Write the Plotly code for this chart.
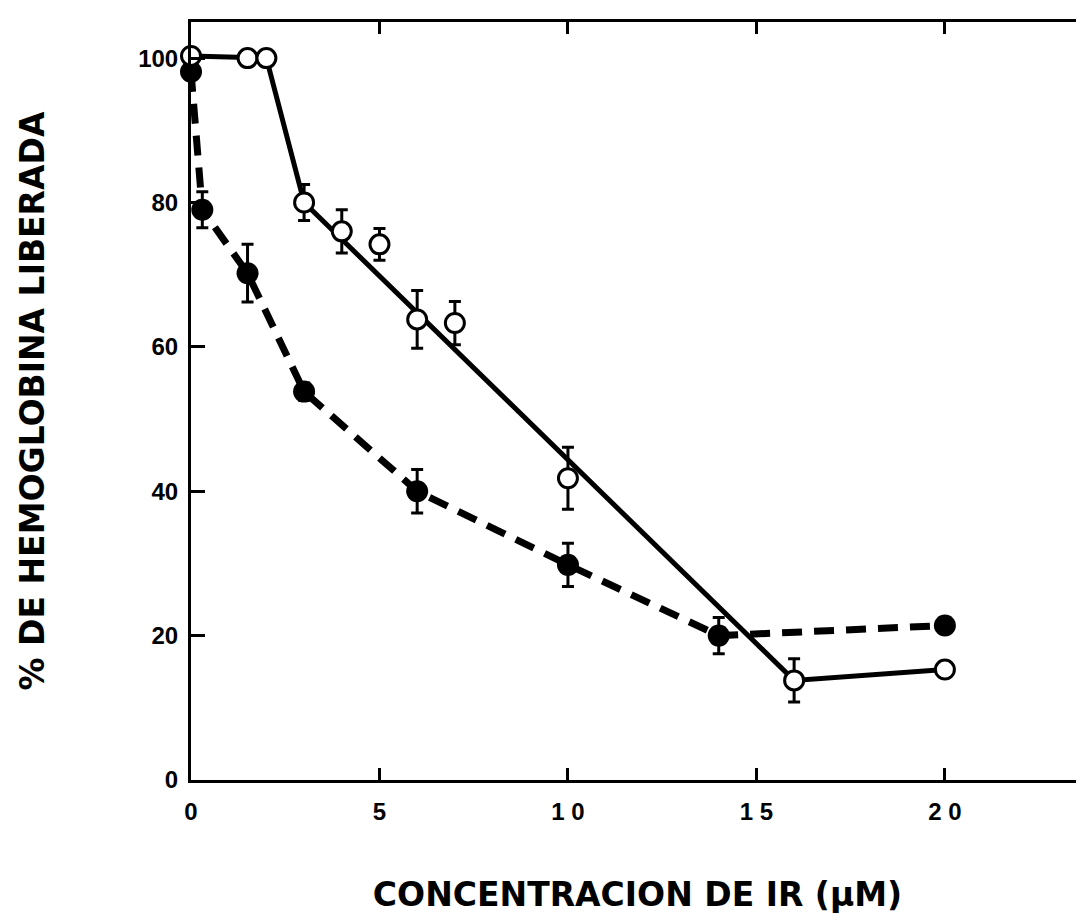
import plotly.graph_objects as go

# Open circles (solid line)
open_x = [0, 1.5, 2.0, 3, 4, 5, 6, 7, 10, 16, 20]
open_y = [100.3, 100, 100, 80, 76, 74.2, 63.8, 63.3, 41.8, 13.8, 15.3]
open_err = [0, 0, 0, 2.5, 3, 2.2, 4, 3, 4.3, 3, 0]

# Fitted solid line vertices
fit_x = [0, 1.5, 2.0, 3, 16, 20]
fit_y = [100.3, 100, 100, 80, 13.8, 15.3]

# Filled circles (dashed line)
filled_x = [0, 0.3, 1.5, 3, 6, 10, 14, 20]
filled_y = [98.1, 79, 70.2, 53.8, 40, 29.8, 20, 21.4]
filled_err = [0, 2.5, 4, 1.2, 3, 3, 2.5, 1]

x_tickvals = [0, 5, 10, 15, 20]
x_ticktext = ["0", "5", "1 0", "1 5", "2 0"]
y_tickvals = [0, 20, 40, 60, 80, 100]
y_ticktext = ["0", "20", "40", "60", "80", "100"]

x_title = "CONCENTRACION DE IR (µM)"
y_title = "% DE HEMOGLOBINA LIBERADA"

fig = go.Figure()

fig.add_trace(go.Scatter(
    x=filled_x, y=filled_y, mode="lines+markers",
    line=dict(color="black", width=7, dash="20px,12px"),
    marker=dict(color="black", size=22, symbol="circle"),
    error_y=dict(type="data", array=filled_err, visible=True,
                 color="black", thickness=3, width=6),
    cliponaxis=False, showlegend=False, hoverinfo="skip",
))

fig.add_trace(go.Scatter(
    x=fit_x, y=fit_y, mode="lines",
    line=dict(color="black", width=5),
    cliponaxis=False, showlegend=False, hoverinfo="skip",
))

fig.add_trace(go.Scatter(
    x=open_x, y=open_y, mode="markers",
    marker=dict(color="white", size=19, symbol="circle",
                line=dict(color="black", width=3)),
    error_y=dict(type="data", array=open_err, visible=True,
                 color="black", thickness=3, width=6),
    cliponaxis=False, showlegend=False, hoverinfo="skip",
))

# invisible trace to carry the right-hand tick axis
fig.add_trace(go.Scatter(
    x=[0], y=[0], yaxis="y2", mode="markers",
    marker=dict(opacity=0), showlegend=False, hoverinfo="skip",
))

tick_font = dict(family="Liberation Sans, Arial, sans-serif", size=24, color="black", weight="bold")
title_font = dict(family="DejaVu Sans, sans-serif", size=33, color="black", weight="bold")

# page body has an 8px margin: the figure is sized so the page fits the window
fig.update_layout(
    width=1076, height=906,
    margin=dict(l=183, r=0, t=14, b=131, pad=0),
    paper_bgcolor="white", plot_bgcolor="white",
    xaxis=dict(
        range=[0, 23.69], showgrid=False, zeroline=False,
        showline=True, linecolor="black", linewidth=3, mirror="ticks",
        ticks="inside", ticklen=12, tickwidth=3, tickcolor="black",
        tickvals=x_tickvals, ticktext=x_ticktext, tickfont=tick_font,
        ticklabelstandoff=8,
        title=dict(text=x_title, font=title_font, standoff=66),
    ),
    yaxis=dict(
        range=[0, 105], showgrid=False, zeroline=False,
        showline=True, linecolor="black", linewidth=3, mirror=False,
        ticks="inside", ticklen=14, tickwidth=3, tickcolor="black",
        tickvals=y_tickvals, ticktext=y_ticktext, tickfont=tick_font,
        ticklabelstandoff=5,
        title=dict(text=y_title, font=title_font, standoff=84),
    ),
    yaxis2=dict(
        range=[0, 105], overlaying="y", side="right", anchor="x",
        showgrid=False, zeroline=False, showline=False,
        ticks="inside", ticklen=6, tickwidth=4, tickcolor="black",
        tickvals=y_tickvals[1:], showticklabels=False,
    ),
)

fig.write_html("out.html")
